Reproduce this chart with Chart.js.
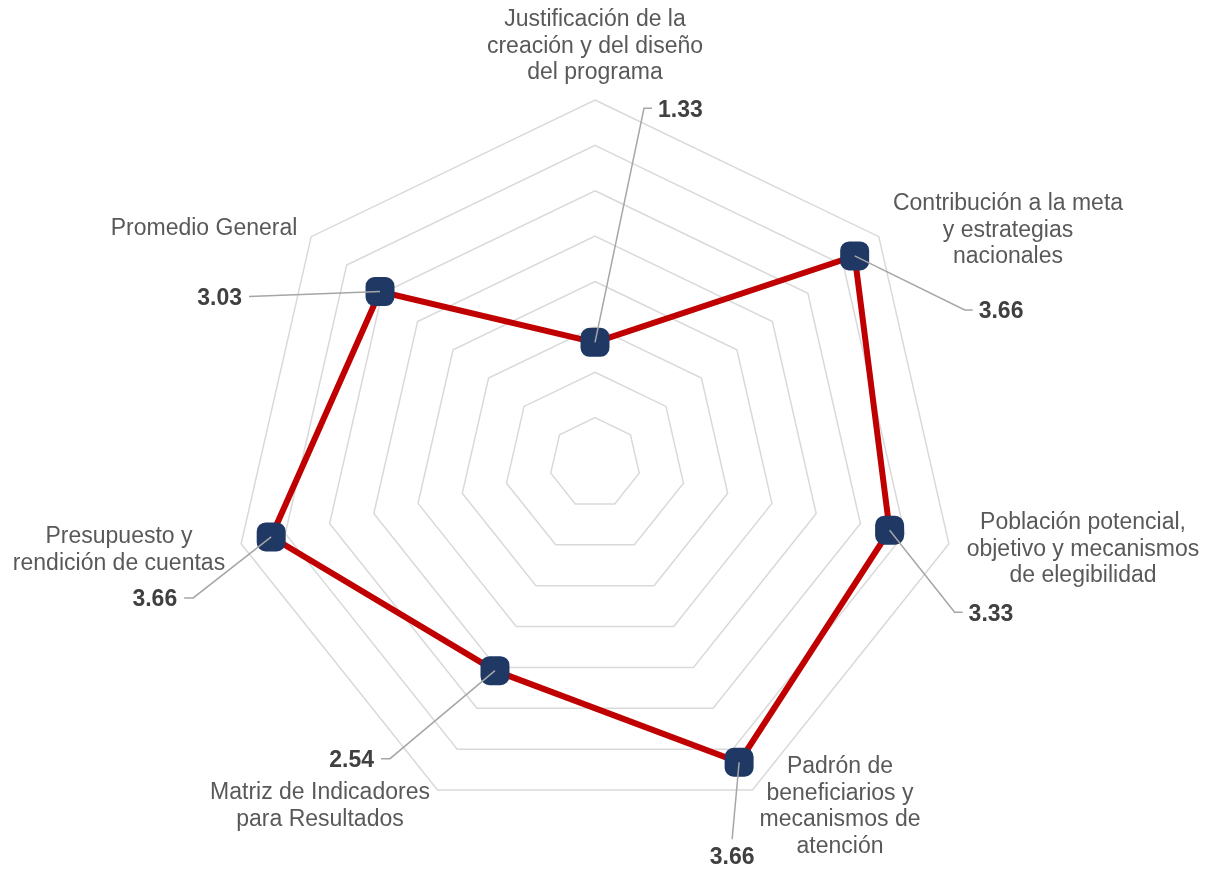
<!DOCTYPE html>
<html lang="es">
<head>
    <meta charset="UTF-8">
    <title>Evaluación del programa</title>
    <script src="https://cdn.jsdelivr.net/npm/chart.js"></script>
    <style>
        body {
            margin: 0;
            background-color: #fff;
        }
        .contenedor {
            width: 1212px;
            height: 871px;
            position: relative;
        }
    </style>
</head>
<body>

<div class="contenedor">
    <canvas id="graficoRadar"></canvas>
</div>

<script>
// Categorías (una por eje, en sentido horario desde arriba)
const categorias = [
    ['Justificación de la', 'creación y del diseño', 'del programa'],
    ['Contribución a la meta', 'y estrategias', 'nacionales'],
    ['Población potencial,', 'objetivo y mecanismos', 'de elegibilidad'],
    ['Padrón de', 'beneficiarios y', 'mecanismos de', 'atención'],
    ['Matriz de Indicadores', 'para Resultados'],
    ['Presupuesto y', 'rendición de cuentas'],
    ['Promedio General']
];
const valores = [1.33, 3.66, 3.33, 3.66, 2.54, 3.66, 3.03];
const etiquetasValor = ['1.33', '3.66', '3.33', '3.66', '2.54', '3.66', '3.03'];
const escalaMin = 0;
const escalaMax = 4;
const escalaPaso = 0.5;

// Posición de los nombres de eje (centro de la primera línea, relativo al centro del radar)
const posCategorias = [
    { dx: 0, dy: -443 },
    { dx: 413, dy: -259 },
    { dx: 488, dy: 60 },
    { dx: 245, dy: 304 },
    { dx: -275, dy: 330 },
    { dx: -476, dy: 74 },
    { dx: -391, dy: -234 }
];

// Líneas guía de los valores: codo relativo al punto, tramo horizontal y lado del texto
const guias = [
    { ex: 49, ey: -234, tick: 8, lado: 'left' },
    { ex: 110, ey: 54, tick: 8, lado: 'left' },
    { ex: 65, ey: 82, tick: 8, lado: 'left' },
    { ex: -7, ey: 77, tick: 0, lado: 'bottom' },
    { ex: -105, ey: 88, tick: -9, lado: 'right' },
    { ex: -78, ey: 61, tick: -9, lado: 'right' },
    { ex: -131, ey: 5, tick: 0, lado: 'right' }
];

const fuente = '"Liberation Sans", Arial, sans-serif';

const pluginEtiquetas = {
    id: 'etiquetas',
    afterDatasetsDraw(chart) {
        const ctx = chart.ctx;
        const meta = chart.getDatasetMeta(0);
        ctx.save();

        // Líneas guía
        ctx.strokeStyle = '#a6a6a6';
        ctx.lineWidth = 1.5;
        meta.data.forEach((pt, i) => {
            const g = guias[i];
            const x1 = pt.x + g.ex;
            const y1 = pt.y + g.ey;
            ctx.beginPath();
            ctx.moveTo(pt.x, pt.y);
            ctx.lineTo(x1, y1);
            if (g.tick) ctx.lineTo(x1 + g.tick, y1);
            ctx.stroke();
        });

        // Valores
        ctx.fillStyle = '#404040';
        ctx.font = 'bold 23px ' + fuente;
        ctx.textBaseline = 'middle';
        meta.data.forEach((pt, i) => {
            const g = guias[i];
            const x1 = pt.x + g.ex + g.tick;
            const y1 = pt.y + g.ey;
            if (g.lado === 'left') {
                ctx.textAlign = 'left';
                ctx.fillText(etiquetasValor[i], x1 + 6, y1 + 2);
            } else if (g.lado === 'right') {
                ctx.textAlign = 'right';
                ctx.fillText(etiquetasValor[i], x1 - 7, y1 + 2);
            } else {
                ctx.textAlign = 'center';
                ctx.fillText(etiquetasValor[i], x1, y1 + 18);
            }
        });

        // Nombres de los ejes
        const r = chart.scales.r;
        ctx.fillStyle = '#595959';
        ctx.font = '23px ' + fuente;
        ctx.textAlign = 'center';
        categorias.forEach((lineas, i) => {
            const p = posCategorias[i];
            lineas.forEach((txt, j) => {
                ctx.fillText(txt, r.xCenter + p.dx, r.yCenter + p.dy + j * 26.5);
            });
        });

        ctx.restore();
    }
};

const ctx = document.getElementById('graficoRadar').getContext('2d');
const grafico = new Chart(ctx, {
    type: 'radar',
    data: {
        labels: categorias,
        datasets: [{
            data: valores,
            borderColor: '#c00000',
            borderWidth: 6,
            fill: false,
            pointStyle: 'rectRounded',
            pointRadius: 16,
            pointHoverRadius: 16,
            pointBackgroundColor: '#1f3864',
            pointBorderColor: '#1f3864',
            pointBorderWidth: 1.5
        }]
    },
    options: {
        responsive: true,
        maintainAspectRatio: false,
        animation: false,
        layout: {
            padding: { left: 232, right: 254, top: 100, bottom: 45 }
        },
        plugins: {
            legend: { display: false },
            tooltip: { enabled: false }
        },
        scales: {
            r: {
                min: escalaMin,
                max: escalaMax,
                ticks: { display: false, stepSize: escalaPaso },
                grid: { color: '#d9d9d9', lineWidth: 1.5, circular: false },
                angleLines: { display: false },
                pointLabels: { display: false }
            }
        }
    },
    plugins: [pluginEtiquetas]
});
</script>

</body>
</html>
